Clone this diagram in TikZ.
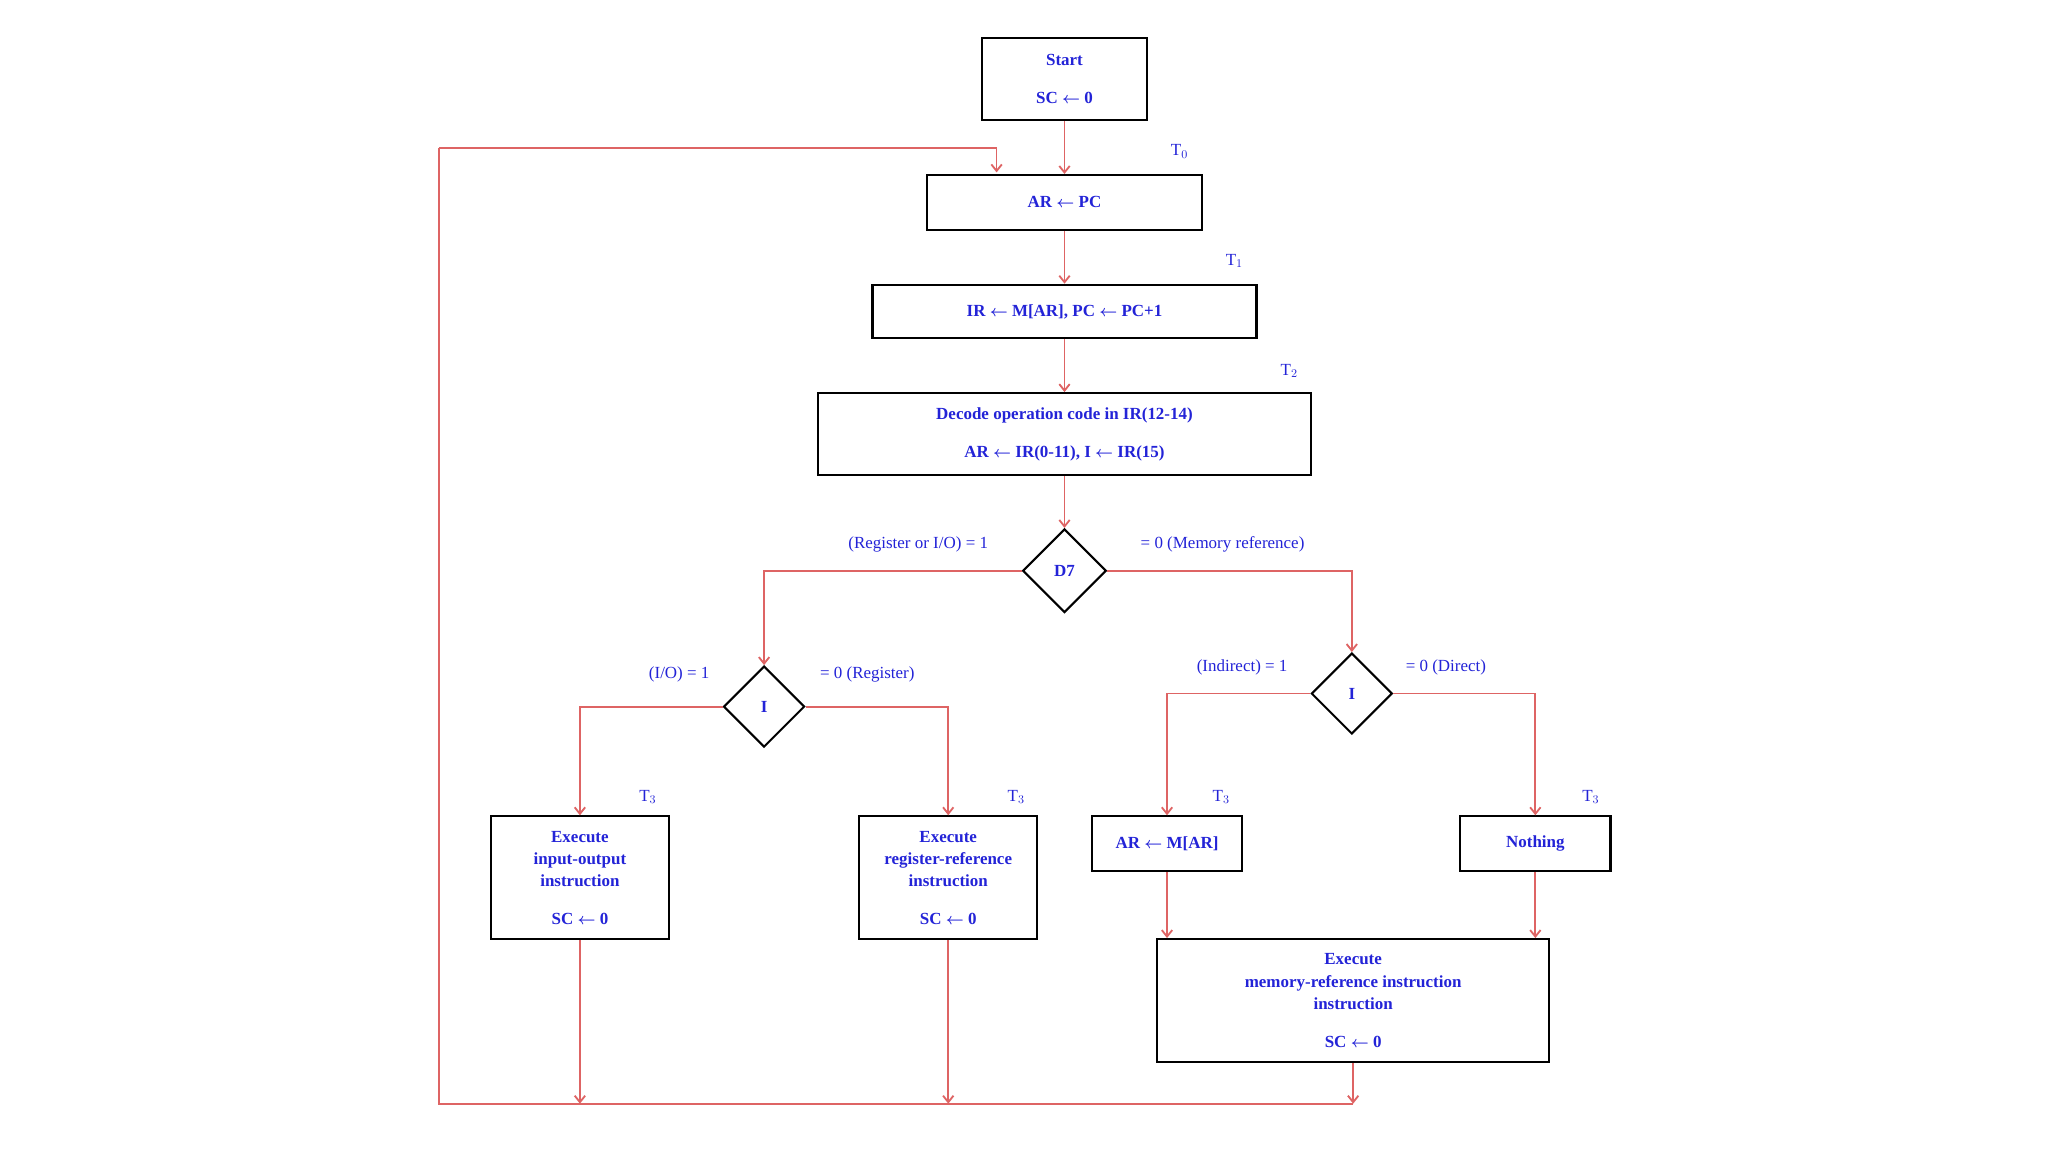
\documentclass[tikz,border=0pt]{standalone}
\usepackage{amsmath}
\usepackage{fontspec}
\setmainfont{Liberation Serif}
\usetikzlibrary{shapes.geometric,arrows.meta}
\definecolor{tx}{RGB}{35,35,215}
\definecolor{ln}{RGB}{222,100,100}
\begin{document}
\begin{tikzpicture}[x=1pt,y=-1pt,
 box/.style={draw=black,line width=1.6pt,inner sep=0,font=\fontsize{13}{17}\selectfont\bfseries,text=tx,align=center},
 dia/.style={draw=black,line width=1.6pt,diamond,minimum width=64pt,minimum height=64pt,inner sep=0,font=\fontsize{13}{17}\selectfont\bfseries,text=tx},
 lab/.style={font=\fontsize{13}{16}\selectfont,text=tx},
 con/.style={draw=ln,line width=1.4pt,-{Straight Barb[length=5pt,width=8pt]}},
 lin/.style={draw=ln,line width=1.4pt}]
\useasboundingbox (0,0) rectangle (1568,882);
\newcommand{\bx}[6]{\node[box,minimum width=#4-#2,minimum height=#5-#3] (#1) at ({(#2+#4)/2},{(#3+#5)/2}) {#6};}
\bx{start}{752}{29}{878}{92}{Start\\[12pt]SC $\boldsymbol{\leftarrow}$ 0}
\bx{ar}{710}{134}{920}{176}{AR $\boldsymbol{\leftarrow}$ PC}
\bx{ir}{668}{218}{962}{259}{IR $\boldsymbol{\leftarrow}$ M[AR], PC $\boldsymbol{\leftarrow}$ PC+1}
\bx{dec}{626}{301}{1004}{364}{Decode operation code in IR(12-14)\\[12pt]AR $\boldsymbol{\leftarrow}$ IR(0-11), I $\boldsymbol{\leftarrow}$ IR(15)}
\node[dia] (d7) at (815,437) {D7};
\node[dia,minimum width=62pt,minimum height=62pt] (il) at (585,541) {I};
\node[dia,minimum width=62pt,minimum height=62pt] (ir2) at (1035,531) {I};
\bx{io}{376}{625}{512}{719}{Execute\\input-output\\instruction\\[12pt]SC $\boldsymbol{\leftarrow}$ 0}
\bx{rr}{658}{625}{794}{719}{Execute\\register-reference\\instruction\\[12pt]SC $\boldsymbol{\leftarrow}$ 0}
\bx{arm}{836}{625}{951}{667}{AR $\boldsymbol{\leftarrow}$ M[AR]}
\bx{no}{1118}{625}{1233}{667}{Nothing}
\bx{mem}{886}{719}{1186}{813}{Execute\\memory-reference instruction\\instruction\\[12pt]SC $\boldsymbol{\leftarrow}$ 0}
\node[lab] at (903,116) {T$_0$};
\node[lab] at (945,200) {T$_1$};
\node[lab] at (987,284) {T$_2$};
\node[lab] at (703,417) {(Register or I/O) = 1};
\node[lab] at (936,417) {= 0 (Memory reference)};
\node[lab] at (520,516) {(I/O) = 1};
\node[lab] at (664,516) {= 0 (Register)};
\node[lab] at (951,511) {(Indirect) = 1};
\node[lab] at (1107,511) {= 0 (Direct)};
\node[lab] at (496,610) {T$_3$};
\node[lab] at (778,610) {T$_3$};
\node[lab] at (935,610) {T$_3$};
\node[lab] at (1218,610) {T$_3$};
\coordinate (bl) at (336,845);
\coordinate (tl) at (336,113);
\draw[con] (start) -- (ar);
\draw[con] (ar) -- (ir);
\draw[con] (ir) -- (dec);
\draw[con] (dec) -- (d7);
\draw[con] (d7.west) -| (il.north);
\draw[con] (d7.east) -| (ir2.north);
\draw[con] (il.west) -| (io.north);
\draw[con] (il.east) -| (rr.north);
\draw[con] (ir2.west) -| (arm.north);
\draw[con] (ir2.east) -| (no.north);
\draw[con] (arm.south) -- (arm.south |- mem.north);
\draw[con] (no.south) -- (no.south |- mem.north);
\draw[con] (io.south) -- (io.south |- bl);
\draw[con] (rr.south) -- (rr.south |- bl);
\draw[con] (mem.south) -- (mem.south |- bl);
\draw[lin] (mem.south |- bl) -- (bl) -- (tl);
\draw[con] (tl) -- (763,113) -- (763,132);
\end{tikzpicture}
\end{document}
